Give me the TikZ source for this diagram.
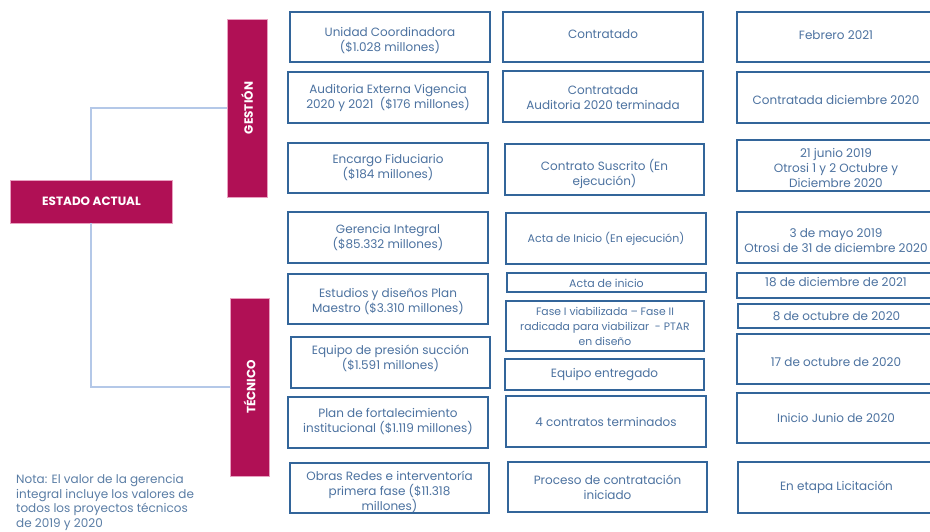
\documentclass[tikz,border=0pt]{standalone}
\usepackage{fontspec}
\setmainfont{Poppins}
\usetikzlibrary{calc}
\definecolor{mag}{HTML}{B01055}
\definecolor{magedge}{HTML}{E8A0C0}
\definecolor{bxline}{HTML}{33659A}
\definecolor{bxtext}{HTML}{4C72A0}
\definecolor{conn}{HTML}{B4C8E8}
\definecolor{notetext}{HTML}{5A7DA5}
\newcommand{\bx}[7]{%
  \node[bxs, minimum width={(#4-#2)*1pt}, minimum height={(#5-#3)*1pt}] (#1) at ({(#2+#4)/2},{(#3+#5)/2}) {};
  \node[bxt] (#1-t) at ($(#1.center)+(0,#6)$) {#7};}
\tikzset{
  bxs/.style={draw=bxline, line width=1.1pt, fill=white, inner sep=0pt},
  bxt/.style={text=bxtext, align=center, inner sep=0pt, font=\fontsize{12}{15}\selectfont},
  magbar/.style={fill=mag, draw=magedge, line width=0.6pt, inner sep=0pt},
  maglabel/.style={text=white, inner sep=0pt, font=\fontsize{12}{14}\selectfont\bfseries},
  connline/.style={draw=conn, line width=1.1pt}
}
\begin{document}
\begin{tikzpicture}[x=1pt,y=-1pt]
\useasboundingbox (0,0) rectangle (930,531);
% magenta bars
\node[magbar, minimum width=162pt, minimum height=43pt] (estado) at (91,201.5) {};
\node[maglabel] (estadolbl) at (91.5,201.5) {ESTADO ACTUAL};
\node[magbar, minimum width=40pt, minimum height=178pt] (gestion) at (247,108) {};
\node[maglabel, rotate=90] (gestionlbl) at (gestion.center) {GESTIÓN};
\node[magbar, minimum width=39pt, minimum height=178pt] (tecnico) at (249.5,387) {};
\node[maglabel, rotate=90] (tecnicolbl) at (tecnico.center) {TÉCNICO};
% connectors
\draw[connline] (estado.north) |- (gestion.west);
\draw[connline] (estado.south) |- (tecnico.west);
% column 1
\bx{a1}{290}{12}{490}{62}{4}{Unidad Coordinadora\\(\$1.028 millones)}
\bx{a2}{288}{72}{488}{123}{0}{Auditoria Externa Vigencia\\2020 y 2021\ \ (\$176 millones)}
\bx{a3}{288}{143}{488}{193}{0}{Encargo Fiduciario\\(\$184 millones)}
\bx{a4}{288}{212}{488}{263}{0}{Gerencia Integral\\(\$85.332 millones)}
\bx{a5}{288}{274}{488}{324}{3}{Estudios y diseños Plan\\Maestro (\$3.310 millones)}
\bx{a6}{291}{337}{490}{388}{-4}{Equipo de presión succión\\(\$1.591 millones)}
\bx{a7}{288}{397}{488}{448}{-1}{Plan de fortalecimiento\\institucional (\$1.119 millones)}
\bx{a8}{290}{463}{489}{513}{4}{Obras Redes e interventoría\\primera fase (\$11.318\\millones)}
% column 2
\bx{b1}{503}{12}{703}{62}{-3}{Contratado}
\bx{b2}{503}{71}{703}{122}{1}{Contratada\\Auditoria 2020 terminada}
\bx{b3}{505}{144}{704}{195}{4}{Contrato Suscrito (En\\ejecución)}
\bx{b4}{506}{213}{706}{264}{0}{\fontsize{11}{13.5}\selectfont Acta de Inicio (En ejecución)}
\bx{b5}{507}{273}{706}{292}{1}{\fontsize{11}{13.5}\selectfont Acta de inicio}
\bx{b6}{506}{301}{704}{351}{0}{\fontsize{10.8}{13.5}\selectfont Fase I viabilizada -- Fase II\\\fontsize{10.8}{13.5}\selectfont radicada para viabilizar\ \ - PTAR\\\fontsize{10.8}{13.5}\selectfont en diseño}
\bx{b7}{505}{359}{704}{390}{0}{Equipo entregado}
\bx{b8}{506}{396}{706}{447}{0}{4 contratos terminados}
\bx{b9}{508}{462}{707}{512}{0}{Proceso de contratación\\iniciado}
% column 3
\bx{c1}{737}{12}{935}{62}{-2}{Febrero 2021}
\bx{c2}{737}{72}{935}{123}{2}{Contratada diciembre 2020}
\bx{c3}{737}{140}{935}{191}{2}{21 junio 2019\\Otrosi 1 y 2 Octubre y\\Diciembre 2020}
\bx{c4}{737}{212}{935}{263}{3}{3 de mayo 2019\\Otrosi de 31 de diciembre 2020}
\bx{c5}{737}{273}{935}{298}{-3}{18 de diciembre de 2021}
\bx{c6}{738}{304}{935}{328}{0}{8 de octubre de 2020}
\bx{c7}{737}{334}{935}{384}{3}{17 de octubre de 2020}
\bx{c8}{737}{393}{935}{443}{0}{Inicio Junio de 2020}
\bx{c9}{738}{462}{935}{513}{0}{En etapa Licitación}
% note
\node[anchor=base west, align=left, text=notetext, inner sep=0pt, font=\fontsize{12}{14.6}\selectfont] (nota) at (16,527.5) {Nota: El valor de la gerencia\\integral incluye los valores de\\todos los proyectos técnicos\\de 2019 y 2020};
\end{tikzpicture}
\end{document}
